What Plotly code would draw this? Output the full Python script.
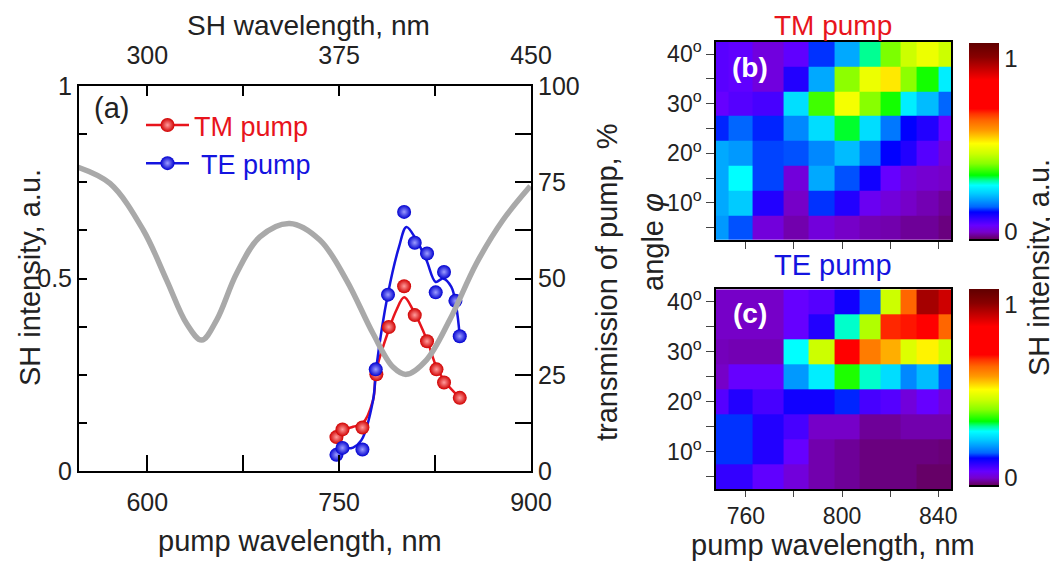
import plotly.graph_objects as go

# page body has an 8px margin: lay out in screen pixels and subtract it
OFF = 8
W, H = 1058 - OFF, 565 - OFF
FONT = "Arial, Liberation Sans, sans-serif"
TXT = "#222222"
RED = "#e8141c"
BLUE = "#1414e0"

# ---------------- panel (a) data ----------------
trans_wl = [546, 570.8, 596.8, 615.1, 630.7, 642.5, 654.2, 669.8, 688, 711.4, 734.9,
            755.7, 776.5, 792.1, 802.6, 818.2, 836.4, 857.3, 878.1, 899.5]
trans_pct = [78.9, 74.7, 62.6, 49.6, 38.3, 34.0, 39.2, 51.3, 60.8, 64.3, 60.0,
             49.6, 35.7, 27.0, 25.1, 28.8, 39.2, 53.9, 65.2, 74.0]

tm_wl = [747.9, 752.6, 768.2, 779.1, 788.8, 800.8, 809.1, 818.7, 826.1, 832.0, 844.3]
tm_sh = [0.088, 0.108, 0.113, 0.251, 0.374, 0.480, 0.405, 0.337, 0.264, 0.230, 0.190]
te_wl = [747.9, 752.6, 768.2, 778.6, 788.2, 800.8, 809.1, 818.7, 825.5, 832.0, 840.9, 844.3]
te_sh = [0.042, 0.060, 0.056, 0.264, 0.458, 0.673, 0.593, 0.565, 0.464, 0.517, 0.442, 0.350]

tm_fit_wl = [747.9, 752.6, 760.9, 768.2, 776.5, 779.1, 789.6, 794.8, 800.8, 807.8, 818.7, 826.1, 833.9, 844.3]
tm_fit_sh = [0.088, 0.105, 0.115, 0.123, 0.184, 0.262, 0.374, 0.418, 0.451, 0.418, 0.340, 0.270, 0.227, 0.190]
te_fit_wl = [747.9, 752.6, 760.9, 767.4, 776.5, 779.1, 788.2, 796.8, 802.6, 810.4, 818.2, 825.5, 831.2, 837.7, 841.6, 844.3]
te_fit_sh = [0.044, 0.057, 0.061, 0.080, 0.184, 0.270, 0.461, 0.582, 0.634, 0.600, 0.548, 0.491, 0.500, 0.478, 0.426, 0.350]

pump_ticks = [600, 750, 900]
pump_minor = [675, 825]
sh_ticks = [300, 375, 450]
sh_minor = [337.5, 412.5]
int_ticks = [0, 0.5, 1]
int_ticktext = ["0", "0.5", "1"]
int_minor = [0.125, 0.25, 0.375, 0.625, 0.75, 0.875]
tr_ticks = [0, 25, 50, 75, 100]
tr_minor = [12.5, 37.5, 62.5, 87.5]

# ---------------- panels (b),(c) data ----------------
map_wl_edges = [747.0, 752.7, 762.7, 775.5, 786.1, 796.9, 807.2, 815.9, 824.5, 831.1, 840.3, 847.0]
angles = [5, 10, 15, 20, 25, 30, 35, 40]
# rows: angle 5 -> 40
tm_map = [
    [0.184, 0.140, 0.013, -0.010, 0.013, 0.000, -0.008, -0.010, -0.018, -0.018, -0.027],
    [0.196, 0.222, 0.091, 0.000, 0.131, 0.091, 0.030, 0.013, 0.000, -0.008, -0.018],
    [0.196, 0.270, 0.136, 0.013, 0.196, 0.140, 0.104, 0.040, 0.013, 0.005, 0.000],
    [0.196, 0.184, 0.136, 0.140, 0.171, 0.210, 0.159, 0.116, 0.091, 0.053, 0.013],
    [0.127, 0.146, 0.127, 0.171, 0.238, 0.320, 0.238, 0.159, 0.116, 0.091, 0.040],
    [0.040, 0.053, 0.064, 0.240, 0.360, 0.500, 0.396, 0.338, 0.254, 0.210, 0.146],
    [0.050, 0.045, 0.015, 0.091, 0.196, 0.400, 0.490, 0.527, 0.400, 0.338, 0.254],
    [0.050, 0.045, 0.015, 0.045, 0.131, 0.196, 0.300, 0.390, 0.453, 0.490, 0.453],
]
te_map = [
    [0.079, 0.079, 0.045, 0.013, -0.010, -0.018, -0.027, -0.027, -0.027, -0.036, -0.036],
    [0.131, 0.131, 0.091, 0.040, -0.010, -0.018, -0.027, -0.027, -0.027, -0.027, -0.030],
    [0.131, 0.131, 0.091, 0.064, 0.000, 0.000, -0.018, -0.018, -0.010, -0.010, -0.010],
    [0.053, 0.091, 0.064, 0.104, 0.104, 0.127, 0.064, 0.053, 0.013, 0.040, 0.013],
    [0.000, 0.040, 0.040, 0.184, 0.254, 0.343, 0.285, 0.238, 0.171, 0.210, 0.140],
    [-0.005, -0.008, -0.008, 0.270, 0.453, 0.750, 0.620, 0.571, 0.472, 0.520, 0.453],
    [0.000, 0.000, 0.000, 0.040, 0.091, 0.285, 0.430, 0.690, 0.700, 0.750, 0.644],
    [0.000, 0.000, 0.000, 0.040, 0.053, 0.104, 0.146, 0.453, 0.644, 0.976, 0.930],
]
map_wl_ticks = [760, 800, 840]
map_wl_minor = [780, 820]
angle_ticks = [10, 20, 30, 40]
angle_ticktext = ["10<sup>o</sup>", "20<sup>o</sup>", "30<sup>o</sup>", "40<sup>o</sup>"]
angle_minor = [5, 15, 25, 35]

colorscale = [
    [0.0, "#000000"], [0.008, "#000000"], [0.012, "#660066"], [0.045, "#7700cc"],
    [0.079, "#6600ff"], [0.113, "#3300ff"], [0.146, "#0000ff"], [0.172, "#0066ff"],
    [0.205, "#0099ff"], [0.239, "#00ccff"], [0.281, "#00ffff"], [0.306, "#00ff99"],
    [0.332, "#00ff00"], [0.391, "#88ff00"], [0.441, "#ccff00"], [0.492, "#ffff00"],
    [0.525, "#ffcc00"], [0.559, "#ff9900"], [0.609, "#ff6600"], [0.643, "#ff3300"],
    [0.668, "#ff0000"], [0.811, "#ff0000"], [0.862, "#cc0000"], [0.929, "#880000"],
    [1.0, "#600000"],
]
ZMIN, ZMAX = -0.05, 1.09


def px(x):
    return (x - OFF) / W


def py(y):
    return 1 - (y - OFF) / H


fig = go.Figure()

# transmission (right axis)
fig.add_trace(go.Scatter(x=trans_wl, y=trans_pct, xaxis="x", yaxis="y2", mode="lines",
                         line=dict(color="#a9a9a9", width=5.5, shape="spline", smoothing=1),
                         showlegend=False, hoverinfo="skip"))
# fits
fig.add_trace(go.Scatter(x=tm_fit_wl, y=tm_fit_sh, xaxis="x", yaxis="y", mode="lines",
                         line=dict(color=RED, width=2.5, shape="spline", smoothing=1),
                         showlegend=False))
fig.add_trace(go.Scatter(x=te_fit_wl, y=te_fit_sh, xaxis="x", yaxis="y", mode="lines",
                         line=dict(color=BLUE, width=2.5, shape="spline", smoothing=1),
                         showlegend=False))
# data points
red_marker = dict(size=14, color="#d00000", line=dict(width=0),
                  gradient=dict(type="radial", color="#ff9c9c"))
blue_marker = dict(size=14, color="#0000d0", line=dict(width=0),
                   gradient=dict(type="radial", color="#9c9cff"))
fig.add_trace(go.Scatter(x=tm_wl, y=tm_sh, xaxis="x", yaxis="y", mode="markers",
                         marker=red_marker, showlegend=False))
fig.add_trace(go.Scatter(x=te_wl, y=te_sh, xaxis="x", yaxis="y", mode="markers",
                         marker=blue_marker, showlegend=False))
# legend entries
fig.add_trace(go.Scatter(x=[None], y=[None], xaxis="x", yaxis="y", mode="lines+markers",
                         line=dict(color=RED, width=2.5), marker=red_marker,
                         name=f"<span style='color:{RED}'>TM pump</span>"))
fig.add_trace(go.Scatter(x=[None], y=[None], xaxis="x", yaxis="y", mode="lines+markers",
                         line=dict(color=BLUE, width=2.5), marker=blue_marker,
                         name=f"<span style='color:{BLUE}'> TE pump</span>"))
# invisible trace to activate top axis
fig.add_trace(go.Scatter(x=[None], y=[None], xaxis="x3", yaxis="y", showlegend=False))

# heatmaps
cb_common = dict(thickness=30, thicknessmode="pixels", len=198, lenmode="pixels",
                 x=px(969), xanchor="left", yanchor="middle", xpad=0, ypad=0,
                 outlinewidth=0, tickvals=[0, 1], ticktext=["0", "1"], ticks="",
                 tickfont=dict(size=24, color=TXT, family=FONT))
fig.add_trace(go.Heatmap(x=map_wl_edges, y=angles, z=tm_map, xaxis="x4", yaxis="y4",
                         colorscale=colorscale, zmin=ZMIN, zmax=ZMAX,
                         colorbar=dict(y=py(141.7), **cb_common)))
fig.add_trace(go.Heatmap(x=map_wl_edges, y=angles, z=te_map, xaxis="x5", yaxis="y5",
                         colorscale=colorscale, zmin=ZMIN, zmax=ZMAX,
                         colorbar=dict(y=py(387.5), **cb_common)))

axis_font = dict(size=25, color=TXT, family=FONT)
map_font = dict(size=23, color=TXT, family=FONT)
common = dict(showgrid=False, zeroline=False, showline=True, linecolor="black", linewidth=2,
              tickcolor="black", tickwidth=2, automargin=False)
map_common = dict(showgrid=False, zeroline=False, showline=True, mirror=True,
                  linecolor="black", linewidth=1.5, tickcolor="#444", tickwidth=1,
                  automargin=False)


def minor(vals, where, length, width=2, color="black"):
    return dict(tickvals=vals, ticks=where, ticklen=length, tickwidth=width,
                tickcolor=color, showgrid=False)


fig.update_layout(
    template="none",
    width=W, height=H, margin=dict(l=0, r=0, t=0, b=0, autoexpand=False),
    paper_bgcolor="white", plot_bgcolor="rgba(0,0,0,0)",
    font=dict(family=FONT, color=TXT),
    xaxis=dict(domain=[px(79), px(531)], anchor="y", range=[546.6, 900],
               tickvals=pump_ticks, ticks="inside", ticklen=16,
               minor=minor(pump_minor, "inside", 16),
               tickfont=axis_font, ticklabelstandoff=8, **common),
    xaxis3=dict(overlaying="x", side="top", anchor="y", range=[273.3, 450],
                tickvals=sh_ticks, ticks="inside", ticklen=10,
                minor=minor(sh_minor, "inside", 10),
                tickfont=axis_font, ticklabelstandoff=10, **common),
    yaxis=dict(domain=[py(471), py(86)], anchor="x", range=[0, 1],
               tickvals=int_ticks, ticktext=int_ticktext, ticks="inside", ticklen=8,
               minor=minor(int_minor, "inside", 8),
               tickfont=axis_font, **common),
    yaxis2=dict(overlaying="y", side="right", anchor="x", range=[0, 100],
                tickvals=tr_ticks, ticks="inside", ticklen=16,
                minor=minor(tr_minor, "inside", 16),
                tickfont=axis_font, **common),
    xaxis4=dict(domain=[px(716), px(951)], anchor="y4", range=[747.6, 845.3],
                tickvals=map_wl_ticks, showticklabels=False, ticks="outside", ticklen=7,
                minor=minor(map_wl_minor, "outside", 7, 1, "#444"),
                **map_common),
    yaxis4=dict(domain=[py(240), py(41.7)], anchor="x4", range=[2.5, 42.5],
                tickvals=angle_ticks, ticktext=angle_ticktext, ticks="outside", ticklen=8,
                minor=minor(angle_minor, "outside", 8, 1, "#444"),
                tickfont=map_font, **map_common),
    xaxis5=dict(domain=[px(716), px(951)], anchor="y5", range=[747.6, 845.3],
                tickvals=map_wl_ticks, ticks="outside", ticklen=6,
                minor=minor(map_wl_minor, "outside", 6, 1, "#444"),
                tickfont=map_font, **map_common),
    yaxis5=dict(domain=[py(489), py(289.3)], anchor="x5", range=[2.5, 42.5],
                tickvals=angle_ticks, ticktext=angle_ticktext, ticks="outside", ticklen=8,
                minor=minor(angle_minor, "outside", 8, 1, "#444"),
                tickfont=map_font, **map_common),
    legend=dict(x=px(141), y=py(101), xanchor="left", yanchor="top",
                bgcolor="rgba(0,0,0,0)", font=dict(size=27, family=FONT),
                tracegroupgap=0, itemwidth=43),
)


def ann(text, x, y, size=29, color=TXT, angle=0, bold=False, yanchor="middle"):
    if bold:
        text = f"<b>{text}</b>"
    fig.add_annotation(text=text, x=px(x), y=py(y), xref="paper", yref="paper",
                       showarrow=False, textangle=angle, xanchor="center", yanchor=yanchor,
                       font=dict(size=size, color=color, family=FONT))


ann("SH wavelength, nm", 308, 8, size=28, yanchor="top")
ann("pump wavelength, nm", 300, 541)
ann("SH intensity, a.u.", 30, 278, angle=-90)
ann("transmission of pump, %", 607, 282, angle=-90)
ann("(a)", 111, 108)
ann("TM pump", 833, 8, size=28, color=RED, yanchor="top")
ann("TE pump", 833, 265, size=29, color=BLUE)
ann("(b)", 750, 68, size=28, color="white", bold=True)
ann("(c)", 750, 313, size=28, color="white", bold=True)
ann("angle <i>φ</i>", 653, 242, angle=-90)
ann("pump wavelength, nm", 833, 545)
ann("SH intensity, a.u.", 1039, 268, angle=-90)

fig.write_html("out.html")
